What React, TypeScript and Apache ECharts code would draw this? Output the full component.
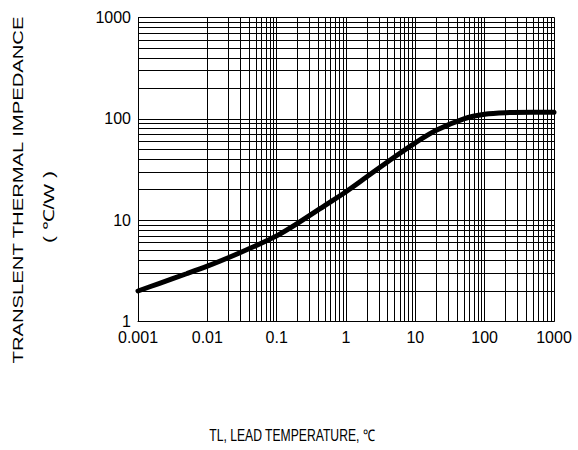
import React, { useEffect, useRef } from "react";
import * as echarts from "echarts";

const tempX = [0.001, 0.002, 0.005, 0.01, 0.02, 0.05, 0.1, 0.2, 0.5, 1, 2, 5, 10, 20, 50, 100, 200, 500, 1000];
const impedance = [2.0, 2.37, 2.96, 3.52, 4.26, 5.6, 7.0, 9.3, 14.0, 19.1, 26.8, 42, 58, 77, 100, 111, 115, 116, 116];
const xDecades = [0.001, 0.01, 0.1, 1, 10, 100];
const yDecades = [1, 10, 100];
const minorSteps = [2, 3, 4, 5, 6, 7, 8, 9];
const xTickLabels = ["0.001", "0.01", "0.1", "1", "10", "100", "1000"];
const yTickLabels = ["1", "10", "100", "1000"];

const FONT = "Liberation Sans, Arial, sans-serif";

export default function App() {
  const ref = useRef<HTMLDivElement>(null);
  useEffect(() => {
    document.body.style.margin = "0";
    const chart = echarts.init(ref.current!, null, { renderer: "svg" });
    const minorX: any[] = [];
    xDecades.forEach((d) => minorSteps.forEach((k) => minorX.push({ xAxis: +(d * k).toPrecision(6) })));
    minorX.push({ xAxis: 1000 });
    const minorY: any[] = [];
    yDecades.forEach((d) => minorSteps.forEach((k) => minorY.push({ yAxis: d * k })));
    minorY.push({ yAxis: 1000 });
    const fmt = (arr: string[]) => (v: number) => {
      const s = arr.find((t) => Math.abs(parseFloat(t) - v) / v < 1e-6);
      return s ?? "";
    };
    chart.setOption({
      animation: false,
      grid: { left: 138, right: 24, top: 17.5, bottom: 128.5, show: false },
      xAxis: {
        type: "log",
        logBase: 10,
        min: 0.001,
        max: 1000,
        axisLine: { show: true, lineStyle: { color: "#000", width: 1 } },
        axisTick: { show: false },
        splitLine: { show: true, lineStyle: { color: "#000", width: 1 } },
        axisLabel: { color: "#000", fontSize: 16, fontFamily: FONT, margin: 8, formatter: fmt(xTickLabels) },
      },
      yAxis: {
        type: "log",
        logBase: 10,
        min: 1,
        max: 1000,
        axisLine: { show: true, lineStyle: { color: "#000", width: 1 } },
        axisTick: { show: false },
        splitLine: { show: true, lineStyle: { color: "#000", width: 1 } },
        axisLabel: { color: "#000", fontSize: 16, fontFamily: FONT, margin: 7, formatter: fmt(yTickLabels) },
      },
      series: [
        {
          type: "line",
          data: [],
          z: 1,
          silent: true,
          markLine: {
            silent: true,
            symbol: ["none", "none"],
            label: { show: false },
            lineStyle: { color: "#000", width: 1, type: "solid" },
            data: [...minorX, ...minorY],
          },
        },
        {
          type: "line",
          z: 5,
          data: tempX.map((x, i) => [x, impedance[i]]),
          smooth: 0.3,
          showSymbol: false,
          symbol: "none",
          lineStyle: { color: "#000", width: 5, cap: "round" },
        },
      ],
      graphic: [
        {
          type: "text",
          x: 18,
          y: 190,
          rotation: Math.PI / 2,
          scaleX: 1.35,
          style: { text: "TRANSLENT THERMAL IMPEDANCE", font: "15px " + FONT, fill: "#000", align: "center", verticalAlign: "middle" },
        },
        {
          type: "text",
          x: 49,
          y: 207,
          rotation: Math.PI / 2,
          scaleX: 1.4,
          style: { text: "( ℃/W )", font: "15px " + FONT, fill: "#000", align: "center", verticalAlign: "middle" },
        },
        {
          type: "text",
          x: 292,
          y: 435,
          scaleX: 0.76,
          style: { text: "TL, LEAD TEMPERATURE, ℃", font: "16px " + FONT, fill: "#000", align: "center", verticalAlign: "middle" },
        },
      ],
    });
    return () => chart.dispose();
  }, []);
  return <div ref={ref} style={{ width: 578, height: 450 }} />;
}
